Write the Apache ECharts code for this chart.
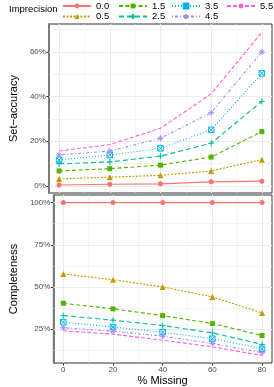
<!DOCTYPE html>
<html><head><meta charset="utf-8">
<script src="https://cdn.jsdelivr.net/npm/echarts@6/dist/echarts.min.js"></script>
<style>html,body{margin:0;padding:0;background:#fff}#c{width:274px;height:387px}</style>
</head><body><div id="c"></div>
<script>
const xValues = [0, 20, 40, 60, 80];
const levels = ['0.0', '0.5', '1.5', '2.5', '3.5', '4.5', '5.5'];
const xTicks = [0, 20, 40, 60, 80];
const accTicks = [0, 20, 40, 60];
const compTicks = [25, 50, 75, 100];

const acc00 = [0.4, 0.7, 0.9, 1.8, 2.1];
const acc05 = [3.1, 3.9, 4.7, 6.7, 11.7];
const acc15 = [6.7, 7.7, 9.3, 12.9, 24.3];
const acc25 = [9.9, 10.7, 13.3, 19.1, 37.8];
const acc35 = [11.6, 13.8, 16.8, 25.1, 50.4];
const acc45 = [13.8, 15.6, 21.3, 32.8, 60.0];
const acc55 = [15.6, 18.5, 25.8, 41.2, 68.8];

const comp00 = [100, 100, 100, 100, 100];
const comp05 = [57.7, 54.3, 50.0, 44.1, 34.6];
const comp15 = [40.3, 37.0, 33.0, 28.3, 21.2];
const comp25 = [33.0, 30.3, 27.1, 22.8, 15.9];
const comp35 = [29.1, 26.2, 23.2, 19.3, 13.3];
const comp45 = [25.8, 23.8, 20.8, 16.5, 11.0];
const comp55 = [24.0, 22.0, 18.4, 14.5, 9.4];

const accData = [acc00, acc05, acc15, acc25, acc35, acc45, acc55];
const compData = [comp00, comp05, comp15, comp25, comp35, comp45, comp55];

const colors = ['#F8766D', '#C49A00', '#53B400', '#00C094', '#00B6EB', '#A58AFF', '#FB61D7'];
const dashes = ['solid', [2, 1.5], [4, 2.5], [5, 3], [1, 2], [1, 2, 3, 2], [4, 2]];
const PLUS = 'path://M5,0V10M0,5H10';
const SQX = 'path://M0,0H10V10H0Z M0,0L10,10 M10,0L0,10';
const AST = 'path://M5,0V10M0,5H10M1.5,1.5L8.5,8.5M8.5,1.5L1.5,8.5';
const symbols = ['circle', 'triangle', 'rect', PLUS, SQX, AST, 'none'];
const symSizes = [5, 6, 5, 6, 5.5, 6, 0];
const stroked = [false, false, false, true, true, true, false];

const FONT = 'Liberation Sans';
const gridLine = '#EBEBEB';

function mkSeries(arrs, gi) {
  return arrs.map((vals, i) => ({
    name: levels[i],
    type: 'line',
    xAxisIndex: gi, yAxisIndex: gi,
    z: 3,
    data: xValues.map((x, k) => [x, vals[k]]),
    symbol: symbols[i],
    symbolSize: symSizes[i],
    showSymbol: symbols[i] !== 'none',
    lineStyle: { color: colors[i], width: 1.1, type: dashes[i] },
    itemStyle: stroked[i]
      ? { color: 'rgba(255,255,255,0)', borderColor: colors[i], borderWidth: 1 }
      : { color: colors[i], borderWidth: 0 },
    emphasis: { disabled: true },
    animation: false
  }));
}

function gridSeries(gi, majorsY, minorsY) {
  const d = [];
  xTicks.forEach(v => d.push({ xAxis: v, lineStyle: { width: 1 } }));
  [10, 30, 50, 70].forEach(v => d.push({ xAxis: v, lineStyle: { width: 0.5 } }));
  majorsY.forEach(v => d.push({ yAxis: v, lineStyle: { width: 1 } }));
  minorsY.forEach(v => d.push({ yAxis: v, lineStyle: { width: 0.5 } }));
  return {
    type: 'line', xAxisIndex: gi, yAxisIndex: gi, data: [], z: 1, silent: true,
    markLine: {
      silent: true, z: 1, symbol: ['none', 'none'], label: { show: false },
      lineStyle: { color: gridLine, type: 'solid', width: 1 },
      emphasis: { disabled: true },
      animation: false,
      data: d
    }
  };
}

function legendCol(items, left) {
  return {
    data: items, left: left, top: 1, orient: 'vertical', padding: 0,
    itemGap: 0.5, itemWidth: 28, itemHeight: 6, selectedMode: false,
    textStyle: { fontSize: 9.5, color: '#000', fontFamily: FONT, lineHeight: 9 }
  };
}

const axisLabelStyle = { fontSize: 8, color: '#4D4D4D', fontFamily: FONT };

const option = {
  animation: false,
  title: { text: 'Imprecision', left: 9, top: 4, padding: 0,
    textStyle: { fontSize: 9.5, fontWeight: 'normal', color: '#000', fontFamily: FONT } },
  legend: [
    legendCol(['0.0', '0.5'], 62),
    legendCol(['1.5', '2.5'], 118),
    legendCol(['3.5', '4.5'], 171),
    legendCol(['5.5'], 226)
  ],
  grid: [
    { left: 39, top: 24, width: 233, height: 169, show: true, borderColor: '#333', borderWidth: 1 },
    { left: 39, top: 195, width: 233, height: 169, show: true, borderColor: '#333', borderWidth: 1 }
  ],
  xAxis: [
    { type: 'value', gridIndex: 0, min: -4, max: 84,
      axisLine: { show: false }, axisTick: { show: false }, axisLabel: { show: false },
      splitLine: { show: false } },
    { type: 'value', gridIndex: 1, min: -4, max: 84,
      name: '% Missing', nameLocation: 'middle', nameGap: 12,
      nameTextStyle: { fontSize: 11, color: '#000', fontFamily: FONT },
      axisLine: { show: false, onZero: false },
      axisTick: { show: true, length: 2.5, lineStyle: { color: '#333' }, customValues: xTicks },
      axisLabel: Object.assign({ margin: 2.5, customValues: xTicks }, axisLabelStyle),
      splitLine: { show: false } }
  ],
  yAxis: [
    { type: 'value', gridIndex: 0, min: -3.2, max: 72.5,
      name: 'Set\u2212accuracy', nameLocation: 'middle', nameGap: 23,
      nameTextStyle: { fontSize: 11, color: '#000', fontFamily: FONT },
      axisLine: { show: true, onZero: false, lineStyle: { color: '#7a7a7a', width: 2 } },
      axisTick: { show: true, length: 2.5, lineStyle: { color: '#333' }, customValues: accTicks },
      axisLabel: Object.assign({ margin: 3, formatter: '{value}%', customValues: accTicks }, axisLabelStyle),
      splitLine: { show: false } },
    { type: 'value', gridIndex: 1, min: 4.9, max: 104.5,
      name: 'Completeness', nameLocation: 'middle', nameGap: 23,
      nameTextStyle: { fontSize: 11, color: '#000', fontFamily: FONT },
      axisLine: { show: true, onZero: false, lineStyle: { color: '#7a7a7a', width: 2 } },
      axisTick: { show: true, length: 2.5, lineStyle: { color: '#333' }, customValues: compTicks },
      axisLabel: Object.assign({ margin: 3, formatter: '{value}%', customValues: compTicks }, axisLabelStyle),
      splitLine: { show: false } }
  ],
  series: [
    gridSeries(0, accTicks, [10, 30, 50, 70]),
    gridSeries(1, compTicks, [12.5, 37.5, 62.5, 87.5])
  ].concat(mkSeries(accData, 0), mkSeries(compData, 1))
};

const chart = echarts.init(document.getElementById('c'), null, { renderer: 'canvas' });
chart.setOption(option);
</script></body></html>
